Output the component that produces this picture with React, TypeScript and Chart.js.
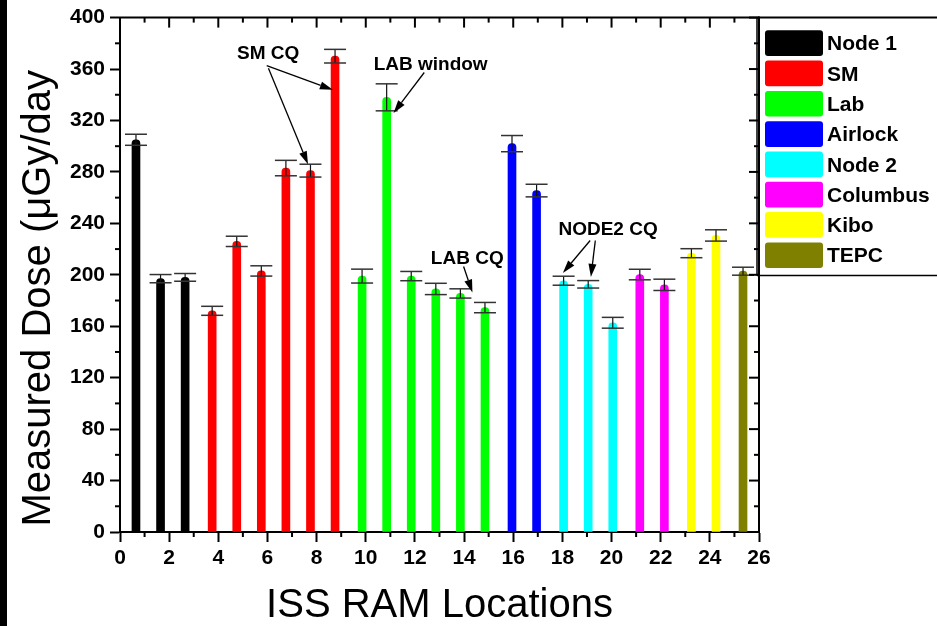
import { useEffect, useRef } from 'react';
import { Chart, registerables } from 'chart.js';

Chart.register(...registerables);

// ---------- data ----------
const groupNames = ['Node 1', 'SM', 'Lab', 'Airlock', 'Node 2', 'Columbus', 'Kibo', 'TEPC'];
const groupColors = ['#000000', '#ff0000', '#00ff00', '#0000ff', '#00ffff', '#ff00ff', '#ffff00', '#808000'];

const node1X = [0.65, 1.65, 2.65];
const node1Dose = [305, 197, 198];
const node1Err = [4.3, 3.2, 3];

const smX = [3.75, 4.75, 5.75, 6.75, 7.75, 8.75];
const smDose = [172, 226, 203, 283, 281, 370];
const smErr = [3.5, 4, 4, 6, 5, 5.3];

const labX = [9.85, 10.85, 11.85, 12.85, 13.85, 14.85];
const labDose = [199, 338, 199, 189, 185.5, 174.5];
const labErr = [5.4, 10.5, 3.6, 4.4, 3.6, 4];

const airlockX = [15.95, 16.95];
const airlockDose = [302, 265.5];
const airlockErr = [6.3, 4.9];

const node2X = [18.05, 19.05, 20.05];
const node2Dose = [195.4, 192.6, 162.7];
const node2Err = [3.5, 2.9, 4.2];

const columbusX = [21.15, 22.15];
const columbusDose = [200.2, 192.2];
const columbusErr = [4.1, 4.4];

const kiboX = [23.25, 24.25];
const kiboDose = [216.8, 230.6];
const kiboErr = [3.5, 4.4];

const tepcX = [25.35];
const tepcDose = [202.8];
const tepcErr = [3.1];

const groupXs = [node1X, smX, labX, airlockX, node2X, columbusX, kiboX, tepcX];
const groupDoses = [node1Dose, smDose, labDose, airlockDose, node2Dose, columbusDose, kiboDose, tepcDose];
const groupErrs = [node1Err, smErr, labErr, airlockErr, node2Err, columbusErr, kiboErr, tepcErr];

const xTitle = 'ISS RAM Locations';
const yTitle = 'Measured Dose (\u03bcGy/day';

// annotation labels (data coordinates)
const noteTexts = ['SM CQ', 'LAB window', 'LAB CQ', 'NODE2 CQ'];
const noteAt = [[6.03, 371.9], [12.64, 363.7], [14.13, 212.5], [19.86, 235.0]];
// arrows: [fromX, fromY, toX, toY] in data coordinates
const arrowLines = [
  [5.97, 362.7, 8.66, 343.8],
  [6.04, 360.6, 7.65, 286.0],
  [12.38, 357.3, 11.13, 325.8],
  [13.98, 206.4, 14.34, 186.2],
  [19.13, 226.7, 18.02, 201.4],
  [19.34, 226.7, 19.16, 198.3],
];

const FONT = "'Liberation Sans', Arial, sans-serif";

function line(ctx: CanvasRenderingContext2D, x1: number, y1: number, x2: number, y2: number) {
  ctx.beginPath();
  ctx.moveTo(x1, y1);
  ctx.lineTo(x2, y2);
  ctx.stroke();
}

const bgPlugin = {
  id: 'bgPlugin',
  beforeDraw(chart: any) {
    const { ctx, width, height } = chart;
    ctx.save();
    ctx.fillStyle = '#ffffff';
    ctx.fillRect(0, 0, width, height);
    ctx.fillStyle = '#000000';
    ctx.fillRect(0, 0, 7, height);
    ctx.restore();
  },
};

const errorBarPlugin = {
  id: 'errorBarPlugin',
  afterDatasetsDraw(chart: any) {
    const { ctx } = chart;
    const xs = chart.scales.x;
    const ys = chart.scales.y;
    ctx.save();
    chart.data.datasets.forEach((ds: any) => {
      ds.data.forEach((pt: any, j: number) => {
        const e = ds.errors[j];
        const px = xs.getPixelForValue(pt.x);
        const pt1 = ys.getPixelForValue(pt.y + e);
        const pb = ys.getPixelForValue(pt.y - e);
        ctx.strokeStyle = '#111111';
        ctx.lineWidth = 1.2;
        line(ctx, px, pt1, px, pb);
        ctx.strokeStyle = '#333333';
        ctx.lineWidth = 1.5;
        line(ctx, px - 11, pt1, px + 11, pt1);
        line(ctx, px - 11, pb, px + 11, pb);
      });
    });
    ctx.restore();
  },
};

const framePlugin = {
  id: 'framePlugin',
  afterDraw(chart: any) {
    const { ctx, chartArea, width } = chart;
    const { left, right, top, bottom } = chartArea;
    const xs = chart.scales.x;
    const ys = chart.scales.y;
    ctx.save();
    ctx.strokeStyle = '#000000';
    ctx.lineWidth = 2;
    // top axis (continues as legend top edge) and right axis
    line(ctx, left - 1, top, width, top);
    line(ctx, right, top - 1, right, bottom + 1);
    for (let v = xs.min; v <= xs.max; v += 1) {
      const px = xs.getPixelForValue(v);
      const major = v % 2 === 0;
      line(ctx, px, top, px, top + (major ? 10 : 5));
      if (!major) line(ctx, px, bottom, px, bottom + 5);
    }
    for (let v = ys.min; v <= ys.max; v += 20) {
      const py = ys.getPixelForValue(v);
      const major = v % 40 === 0;
      line(ctx, right, py, right - (major ? 10 : 5), py);
      if (!major) line(ctx, left, py, left - 5, py);
    }

    // legend
    const lx = right - 2;
    const lBottom = top + 258;
    ctx.lineWidth = 1.5;
    line(ctx, lx, top, lx, lBottom);
    line(ctx, lx, lBottom, width, lBottom);
    chart.data.datasets.forEach((ds: any, i: number) => {
      const sy = top + 12.7 + i * 30.3;
      const sx = lx + 8;
      ctx.fillStyle = ds.backgroundColor;
      ctx.beginPath();
      (ctx as any).roundRect(sx, sy, 58, 25.7, 3);
      ctx.fill();
      ctx.fillStyle = '#000000';
      ctx.font = `bold 21px ${FONT}`;
      ctx.textAlign = 'left';
      ctx.textBaseline = 'middle';
      ctx.fillText(ds.label, sx + 62, sy + 14.3);
    });

    // annotations
    ctx.fillStyle = '#000000';
    ctx.font = `bold 19px ${FONT}`;
    ctx.textAlign = 'center';
    ctx.textBaseline = 'middle';
    noteTexts.forEach((t, i) => {
      ctx.fillText(t, xs.getPixelForValue(noteAt[i][0]), ys.getPixelForValue(noteAt[i][1]));
    });
    ctx.strokeStyle = '#000000';
    ctx.lineWidth = 1.3;
    arrowLines.forEach((a) => {
      const x1 = xs.getPixelForValue(a[0]);
      const y1 = ys.getPixelForValue(a[1]);
      const x2 = xs.getPixelForValue(a[2]);
      const y2 = ys.getPixelForValue(a[3]);
      const ang = Math.atan2(y2 - y1, x2 - x1);
      const hl = 13;
      const hw = 4;
      const bx = x2 - hl * Math.cos(ang);
      const by = y2 - hl * Math.sin(ang);
      line(ctx, x1, y1, bx, by);
      ctx.beginPath();
      ctx.moveTo(x2, y2);
      ctx.lineTo(bx + hw * Math.sin(ang), by - hw * Math.cos(ang));
      ctx.lineTo(bx - hw * Math.sin(ang), by + hw * Math.cos(ang));
      ctx.closePath();
      ctx.fill();
    });

    // y axis title
    ctx.save();
    ctx.translate(50, (top + bottom) / 2 + 23.5);
    ctx.rotate(-Math.PI / 2);
    ctx.font = `40px ${FONT}`;
    ctx.textAlign = 'center';
    ctx.textBaseline = 'alphabetic';
    ctx.fillText(yTitle, 0, 0);
    ctx.restore();

    ctx.restore();
  },
};

export default function App() {
  const canvasRef = useRef<HTMLCanvasElement | null>(null);

  useEffect(() => {
    if (!canvasRef.current) return;
    const datasets = groupNames.map((name, i) => ({
      label: name,
      data: groupXs[i].map((x, j) => ({ x, y: groupDoses[i][j] })),
      errors: groupErrs[i],
      backgroundColor: groupColors[i],
      borderWidth: 0,
      barThickness: 8,
      grouped: false,
      borderRadius: { topLeft: 4, topRight: 4, bottomLeft: 0, bottomRight: 0 },
      borderSkipped: false,
    }));

    const tickFont = { family: FONT, size: 21, weight: 'bold' as const };

    const chart = new Chart(canvasRef.current, {
      type: 'bar',
      data: { datasets: datasets as any },
      plugins: [bgPlugin, errorBarPlugin, framePlugin],
      options: {
        animation: false,
        responsive: false,
        devicePixelRatio: 1,
        layout: { padding: { left: 0, top: 14, right: 178, bottom: 0 } },
        plugins: {
          legend: { display: false },
          tooltip: { enabled: false },
        },
        scales: {
          x: {
            type: 'linear',
            min: 0,
            max: 26,
            offset: false,
            afterFit: (s: any) => {
              s.height = 94;
            },
            ticks: { stepSize: 2, font: tickFont, color: '#000', padding: 4 },
            grid: {
              display: true,
              offset: false,
              drawOnChartArea: false,
              drawTicks: true,
              tickLength: 10,
              tickWidth: 2,
              tickColor: '#000',
            },
            border: { display: true, width: 2, color: '#000' },
            title: {
              display: true,
              text: xTitle,
              color: '#000',
              font: { family: FONT, size: 40, lineHeight: 1 },
              padding: { top: 0, bottom: 0 },
            },
          },
          y: {
            type: 'linear',
            min: 0,
            max: 400,
            afterFit: (s: any) => {
              s.width = 120;
            },
            ticks: { stepSize: 40, font: tickFont, color: '#000', padding: 5 },
            grid: {
              display: true,
              drawOnChartArea: false,
              drawTicks: true,
              tickLength: 10,
              tickWidth: 2,
              tickColor: '#000',
            },
            border: { display: true, width: 2, color: '#000' },
          },
        },
      } as any,
    });
    return () => chart.destroy();
  }, []);

  return (
    <div style={{ position: 'absolute', left: 0, top: 0, width: 937, height: 626 }}>
      <canvas ref={canvasRef} width={937} height={626} style={{ display: 'block', width: 937, height: 626 }} />
    </div>
  );
}
